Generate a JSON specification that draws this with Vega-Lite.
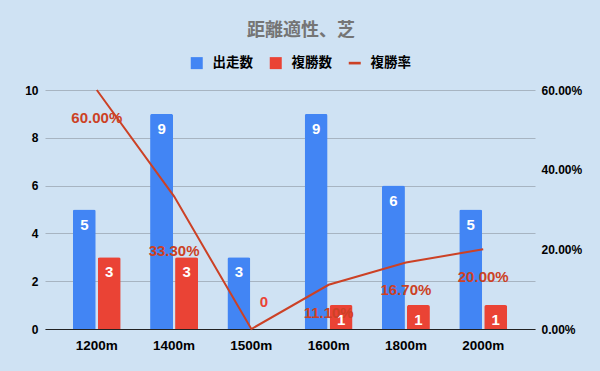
{
  "$schema": "https://vega.github.io/schema/vega-lite/v6.json",
  "width": 490,
  "height": 239,
  "autosize": {"type": "none"},
  "padding": {"left": 45, "top": 90, "right": 65, "bottom": 42},
  "background": "#cfe2f3",
  "config": {"view": {"stroke": null}, "font": "Liberation Sans, Noto Sans CJK JP"},
  "title": {"text": "距離適性、芝", "fontSize": 18, "fontWeight": "bold", "color": "#757575", "anchor": "middle", "dx": 11, "offset": 16, "font": "Noto Sans CJK JP"},
  "data": {"values": [
    {"距離": "1200m", "出走数": 5, "複勝数": 3, "複勝率": 0.6},
    {"距離": "1400m", "出走数": 9, "複勝数": 3, "複勝率": 0.333},
    {"距離": "1500m", "出走数": 3, "複勝数": 0, "複勝率": 0},
    {"距離": "1600m", "出走数": 9, "複勝数": 1, "複勝率": 0.111},
    {"距離": "1800m", "出走数": 6, "複勝数": 1, "複勝率": 0.167},
    {"距離": "2000m", "出走数": 5, "複勝数": 1, "複勝率": 0.2}
  ]},
  "layer": [
    {
      "transform": [{"fold": ["出走数", "複勝数"], "as": ["系列", "値"]}],
      "encoding": {
        "x": {"field": "距離", "type": "nominal", "sort": null,
          "scale": {"paddingInner": 0.38, "paddingOuter": 0.36},
          "axis": {"title": null, "labelAngle": 0, "labelFontWeight": "bold", "labelFontSize": 13.5, "labelColor": "#000000", "labelPadding": 9, "ticks": false, "domainColor": "#222222", "domainWidth": 1, "grid": false}},
        "xOffset": {"field": "系列", "type": "nominal", "sort": ["出走数", "複勝数"], "scale": {"paddingInner": 0.08}},
        "y": {"field": "値", "type": "quantitative", "scale": {"domain": [0, 10]},
          "axis": {"title": null, "values": [0, 2, 4, 6, 8, 10], "labelFontWeight": "bold", "labelFontSize": 12, "labelColor": "#000000", "labelPadding": 7, "ticks": false, "domain": false, "gridColor": "#a7b4c1", "gridWidth": 1}}
      },
      "layer": [
        {
          "mark": {"type": "bar", "cornerRadiusTopLeft": 2, "cornerRadiusTopRight": 2},
          "encoding": {
            "color": {"field": "系列", "type": "nominal",
              "scale": {"domain": ["出走数", "複勝数", "複勝率"], "range": ["#4285f4", "#ea4335", "#cc4125"]},
              "legend": {"title": null, "orient": "none", "direction": "horizontal", "legendX": 145, "legendY": -34,
                "labelFontWeight": "bold", "labelFontSize": 13.5, "labelColor": "#000000", "labelFont": "Noto Sans CJK JP",
                "symbolSize": 144, "symbolType": "square", "symbolStrokeWidth": 0, "labelOffset": 9, "columnPadding": 16,
                "encode": {"symbols": {"update": {"shape": {"signal": "datum.value === '複勝率' ? 'M-1,-0.22H1V0.22H-1Z' : 'square'"}, "fill": {"scale": "color", "field": "value"}, "strokeWidth": {"value": 0}, "opacity": {"value": 1}}}}}}
          }
        },
        {
          "transform": [{"filter": "datum['値'] > 0"}],
          "mark": {"type": "text", "dy": 15, "color": "#ffffff", "fontWeight": "bold", "fontSize": 15, "baseline": "middle"},
          "encoding": {"text": {"field": "値", "type": "quantitative"}}
        },
        {
          "transform": [{"filter": "datum['値'] == 0"}],
          "mark": {"type": "text", "dy": -27, "color": "#ea4335", "fontWeight": "bold", "fontSize": 15, "baseline": "middle"},
          "encoding": {"text": {"field": "値", "type": "quantitative"}}
        }
      ]
    },
    {
      "encoding": {
        "x": {"field": "距離", "type": "nominal", "sort": null},
        "y": {"field": "複勝率", "type": "quantitative", "scale": {"domain": [0, 0.6]},
          "axis": {"orient": "right", "title": null, "values": [0, 0.2, 0.4, 0.6], "format": ".2%", "grid": false, "domain": false, "ticks": false, "labelFontWeight": "bold", "labelFontSize": 12, "labelColor": "#000000", "labelPadding": 6}}
      },
      "layer": [
        {
          "mark": {"type": "line", "strokeWidth": 2},
          "encoding": {"color": {"datum": "複勝率"}}
        },
        {
          "transform": [{"filter": "datum['複勝率'] > 0 && datum['距離'] != '1400m'"}],
          "mark": {"type": "text", "dy": 28, "color": "#cc4125", "fontWeight": "bold", "fontSize": 15, "baseline": "middle"},
          "encoding": {"text": {"field": "複勝率", "type": "quantitative", "format": ".2%"}}
        },
        {
          "transform": [{"filter": "datum['距離'] == '1400m'"}],
          "mark": {"type": "text", "dy": 55, "color": "#cc4125", "fontWeight": "bold", "fontSize": 15, "baseline": "middle"},
          "encoding": {"text": {"field": "複勝率", "type": "quantitative", "format": ".2%"}}
        }
      ]
    }
  ],
  "resolve": {"scale": {"y": "independent"}}
}
